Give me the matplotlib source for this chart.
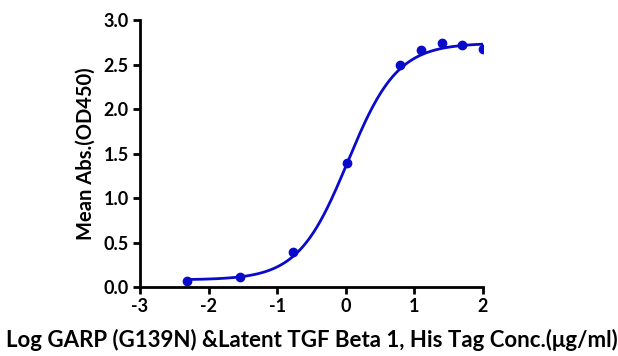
import numpy as np
import matplotlib.pyplot as plt

# measured points (log conc, mean OD450)
log_conc = [-2.32, -1.54, -0.77, 0.02, 0.79, 1.10, 1.40, 1.69, 2.00]
mean_abs = [0.07, 0.11, 0.39, 1.39, 2.49, 2.66, 2.74, 2.72, 2.67]

# 4PL fit parameters
bottom, top, log_ec50, hill = 0.08, 2.74, 0.03, 1.2

x_ticks = [-3, -2, -1, 0, 1, 2]
y_ticks = [0.0, 0.5, 1.0, 1.5, 2.0, 2.5, 3.0]

blue = "#0a0acb"

plt.rcParams['font.family'] = ['Lato', 'DejaVu Sans']
plt.rcParams['axes.unicode_minus'] = False

fig = plt.figure(figsize=(6.18, 3.56), dpi=100)
ax = fig.add_axes([0.2265, 0.1938, 0.555, 0.75])

xf = np.linspace(min(log_conc), max(log_conc), 300)
yf = bottom + (top - bottom) / (1 + 10 ** ((log_ec50 - xf) * hill))
ax.plot(xf, yf, color=blue, lw=2)
ax.plot(log_conc, mean_abs, "o", color=blue, ms=6)

ax.set_xlim(-3, 2)
ax.set_ylim(0, 3.0)
ax.set_xticks(x_ticks)
ax.set_yticks(y_ticks)
ax.set_yticklabels(["%.1f" % v for v in y_ticks])
for s in ["top", "right"]:
    ax.spines[s].set_visible(False)
for s in ["left", "bottom"]:
    ax.spines[s].set_linewidth(2)
ax.tick_params(width=2, length=5, labelsize=13, pad=3)
for lab in ax.get_xticklabels() + ax.get_yticklabels():
    lab.set_fontweight("bold")

ax.set_xlabel("Log GARP (G139N) &Latent TGF Beta 1, His Tag Conc.(μg/ml)",
              fontsize=16, fontweight="bold", labelpad=10)
ax.set_ylabel("Mean Abs.(OD450)", fontsize=14.5, fontweight="bold", labelpad=6)

fig.savefig("out.png", dpi=100)
